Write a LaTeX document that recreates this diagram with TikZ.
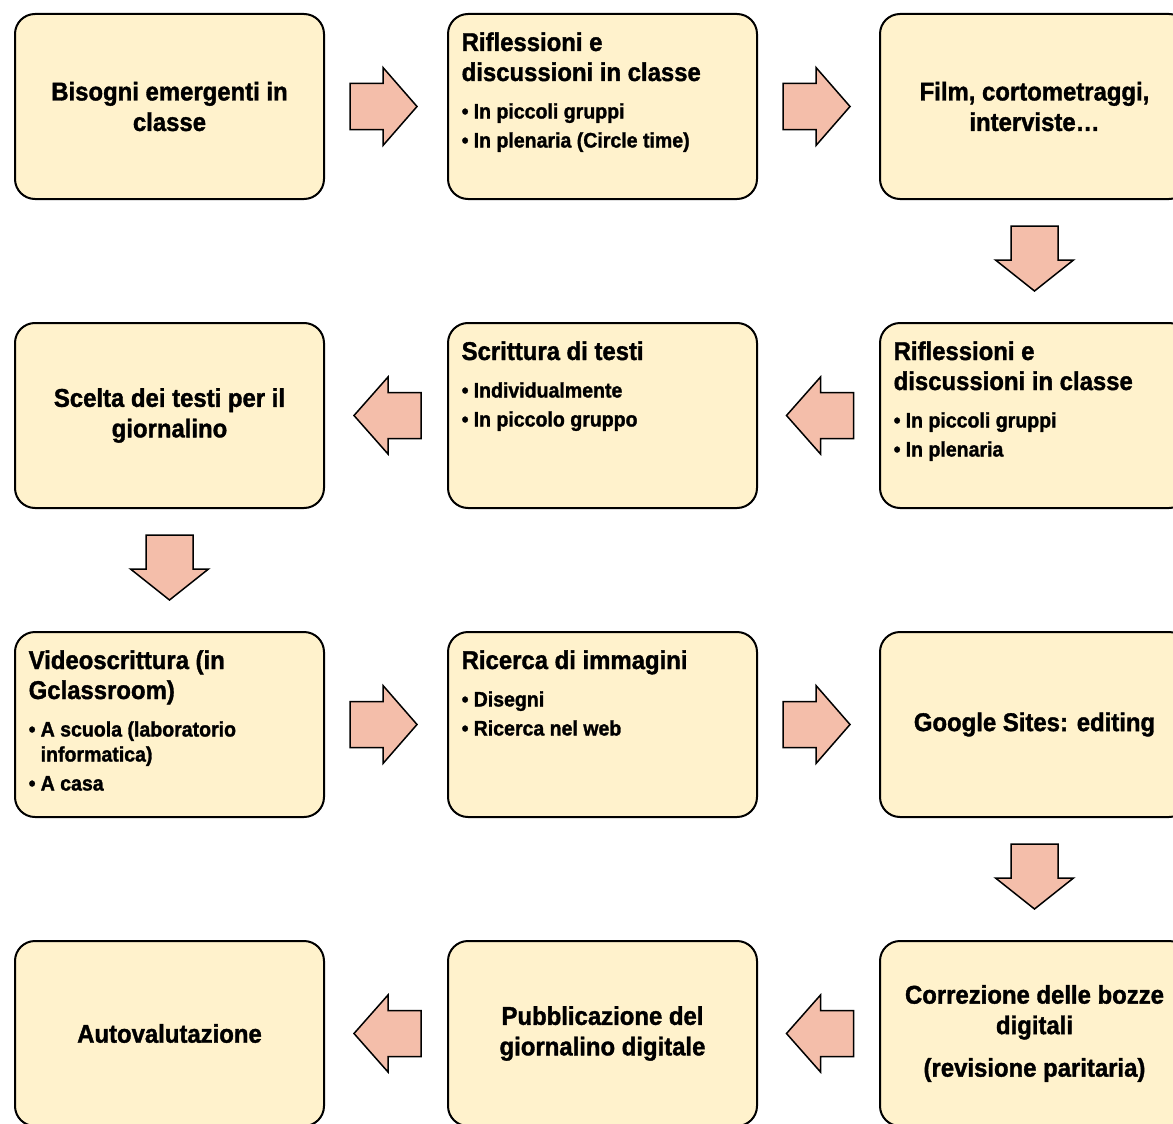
\documentclass[tikz,border=0pt]{standalone}
\usepackage{fontspec}
\setmainfont{Liberation Sans}[FakeStretch=0.93, BoldFeatures={FakeBold=1.4}]
\usetikzlibrary{calc}
\definecolor{boxfill}{HTML}{FFF2CC}
\definecolor{arrfill}{HTML}{F4BEAA}
\newcommand\Tf{\fontsize{25.7}{30.5}\selectfont\bfseries}
\newcommand\Bf{\fontsize{21}{25}\selectfont\bfseries}
\newcommand\bu{\makebox[12pt][l]{\textbullet}}
\tikzset{
  box/.style={draw=black, line width=2pt, fill=boxfill, rounded corners=20pt,
    minimum width=309pt, minimum height=185pt, inner sep=0pt, align=center, font=\Tf},
  ttl/.style={anchor=base west, inner sep=0pt, font=\Tf},
  bl/.style={anchor=base west, inner sep=0pt, font=\Bf},
  blk/.style={draw=black, line width=1.5pt, fill=arrfill, line join=miter},
  rarr/.pic={\draw[blk] (-33.5,-23) -- (-0.5,-23) -- (-0.5,-39) -- (33.5,0) -- (-0.5,39) -- (-0.5,23) -- (-33.5,23) -- cycle;},
  larr/.pic={\draw[blk] (33.5,-23) -- (0.5,-23) -- (0.5,-38.5) -- (-33.5,0) -- (0.5,38.5) -- (0.5,23) -- (33.5,23) -- cycle;},
  darr/.pic={\draw[blk] (-23.5,-32.5) -- (23.5,-32.5) -- (23.5,1.5) -- (39,1.5) -- (0,32.5) -- (-39,1.5) -- (-23.5,1.5) -- cycle;}
}
\begin{document}
\begin{tikzpicture}[x=1pt,y=-1pt]
\useasboundingbox (0,0) rectangle (1173,1124);
% boxes
\node[box] (b11) at (169.5,106.5) {Bisogni emergenti in\\classe};
\node[box] (b12) at (602.5,106.5) {};
\node[box] (b13) at (1034.5,106.5) {Film, cortometraggi,\\interviste…};
\node[box] (b21) at (169.5,415.5) {Scelta dei testi per il\\giornalino};
\node[box] (b22) at (602.5,415.5) {};
\node[box] (b23) at (1034.5,415.5) {};
\node[box] (b31) at (169.5,724.5) {};
\node[box] (b32) at (602.5,724.5) {};
\node[box] (b33) at (1034.5,724.5) {Google Sites: editing};
\node[box] (b41) at (169.5,1033.5) {Autovalutazione};
\node[box] (b42) at (602.5,1033.5) {Pubblicazione del\\giornalino digitale};
\node[box] (b43) at (1034.5,1033.5) {Correzione delle bozze\\digitali\\[12pt](revisione paritaria)};
% box b12
\node[ttl] (t12a) at ($(b12.north west)+(14.5,38)$) {Riflessioni e};
\node[ttl] (t12b) at ($(b12.north west)+(14.5,68)$) {discussioni in classe};
\node[bl]  (t12c) at ($(b12.north west)+(14.5,105.5)$) {\bu In piccoli gruppi};
\node[bl]  (t12d) at ($(b12.north west)+(14.5,134.5)$) {\bu In plenaria (Circle time)};
% box b22
\node[ttl] (t22a) at ($(b22.north west)+(14.5,38)$) {Scrittura di testi};
\node[bl]  (t22b) at ($(b22.north west)+(14.5,75.5)$) {\bu Individualmente};
\node[bl]  (t22c) at ($(b22.north west)+(14.5,104.5)$) {\bu In piccolo gruppo};
% box b23
\node[ttl] (t23a) at ($(b23.north west)+(14.5,38)$) {Riflessioni e};
\node[ttl] (t23b) at ($(b23.north west)+(14.5,68)$) {discussioni in classe};
\node[bl]  (t23c) at ($(b23.north west)+(14.5,105.5)$) {\bu In piccoli gruppi};
\node[bl]  (t23d) at ($(b23.north west)+(14.5,134.5)$) {\bu In plenaria};
% box b31
\node[ttl] (t31a) at ($(b31.north west)+(14.5,38)$) {Videoscrittura (in};
\node[ttl] (t31b) at ($(b31.north west)+(14.5,68)$) {Gclassroom)};
\node[bl]  (t31c) at ($(b31.north west)+(14.5,105.5)$) {\bu A scuola (laboratorio};
\node[bl]  (t31d) at ($(b31.north west)+(26.5,130.5)$) {informatica)};
\node[bl]  (t31e) at ($(b31.north west)+(14.5,159.5)$) {\bu A casa};
% box b32
\node[ttl] (t32a) at ($(b32.north west)+(14.5,38)$) {Ricerca di immagini};
\node[bl]  (t32b) at ($(b32.north west)+(14.5,75.5)$) {\bu Disegni};
\node[bl]  (t32c) at ($(b32.north west)+(14.5,104.5)$) {\bu Ricerca nel web};
% block arrows
\pic (a1) at ($(b11.east)!.5!(b12.west)+(-2.5,0)$) {rarr};
\pic (a2) at ($(b12.east)!.5!(b13.west)+(-2,0)$) {rarr};
\pic (a3) at ($(b13.south)!.5!(b23.north)+(0,-2.5)$) {darr};
\pic (a4) at ($(b23.west)!.5!(b22.east)+(1.5,0)$) {larr};
\pic (a5) at ($(b22.west)!.5!(b21.east)+(1.5,0)$) {larr};
\pic (a6) at ($(b21.south)!.5!(b31.north)+(0,-2.5)$) {darr};
\pic (a7) at ($(b31.east)!.5!(b32.west)+(-2.5,0)$) {rarr};
\pic (a8) at ($(b32.east)!.5!(b33.west)+(-2,0)$) {rarr};
\pic (a9) at ($(b33.south)!.5!(b43.north)+(0,-2.5)$) {darr};
\pic (a10) at ($(b43.west)!.5!(b42.east)+(1.5,0)$) {larr};
\pic (a11) at ($(b42.west)!.5!(b41.east)+(1.5,0)$) {larr};
\end{tikzpicture}
\end{document}
